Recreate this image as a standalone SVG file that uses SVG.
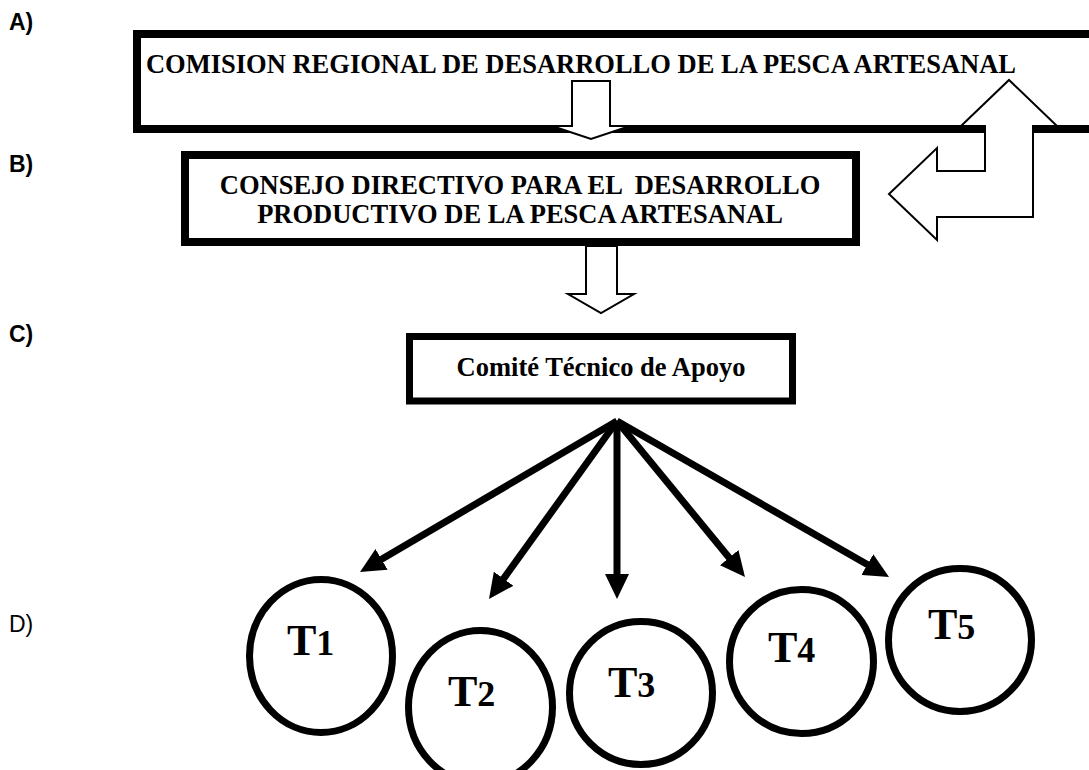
<svg xmlns="http://www.w3.org/2000/svg" width="1089" height="770" viewBox="0 0 1089 770">
<defs>
<style>
.box{fill:#fff;stroke:#000;stroke-width:8}
.blk{fill:#fff;stroke:#000;stroke-width:2;stroke-linejoin:miter}
.ttl{font-family:"Liberation Serif","Times New Roman",serif;font-weight:bold;font-size:26.5px;fill:#000;text-anchor:middle}
.lbl{font-family:"Liberation Sans",Arial,sans-serif;font-size:23px;fill:#000}
.circ{fill:#fff;stroke:#000;stroke-width:7}
.t{font-family:"Liberation Serif","Times New Roman",serif;font-weight:bold;font-size:44px;fill:#000}
.d{font-size:36px}
.fan{stroke:#000;stroke-width:7;fill:none;marker-end:url(#ah)}
</style>
<marker id="ah" markerUnits="userSpaceOnUse" markerWidth="25" markerHeight="24" viewBox="0 0 25 24" refX="3" refY="12" orient="auto">
<path d="M0,0 L25,12 L0,24 Z" fill="#000"/>
</marker>
</defs>
<rect width="1089" height="770" fill="#fff"/>
<g id="labels">
<text class="lbl" x="9" y="30" font-weight="bold">A)</text>
<text class="lbl" x="9" y="172" font-weight="bold">B)</text>
<text class="lbl" x="9" y="342" font-weight="bold">C)</text>
<text class="lbl" x="9" y="632">D)</text>
</g>
<g id="nodeA">
<rect class="box" x="137" y="34" width="970" height="95"/>
<text class="ttl" x="581" y="73">COMISION REGIONAL DE DESARROLLO DE LA PESCA ARTESANAL</text>
</g>
<g id="connectors">
<path class="blk" d="M572,81 L610,81 L610,126 L630,126 L591,139 L552,126 L572,126 Z"/>
<path class="blk" d="M985,126 L961,126 L1009,80 L1057,126 L1033,126 L1033,217 L937,217 L937,240 L889,194 L937,148 L937,171 L985,171 Z"/>
<path class="blk" d="M586,246 L617,246 L617,294 L634,294 L601,313 L568,294 L586,294 Z"/>
<line class="fan" x1="617" y1="421" x2="378.97" y2="560.85"/>
<line class="fan" x1="617" y1="421" x2="501.85" y2="581.14"/>
<line class="fan" x1="617" y1="421" x2="617" y2="577"/>
<line class="fan" x1="617" y1="421" x2="731.05" y2="559.99"/>
<line class="fan" x1="617" y1="421" x2="869.92" y2="566.06"/>
</g>
<g id="nodeB">
<rect class="box" x="185" y="155" width="671" height="87"/>
<text class="ttl" x="520" y="194" xml:space="preserve">CONSEJO DIRECTIVO PARA EL  DESARROLLO</text>
<text class="ttl" x="520" y="223">PRODUCTIVO DE LA PESCA ARTESANAL</text>
</g>
<g id="nodeC">
<rect class="box" x="409.5" y="336.5" width="383" height="64.5" style="stroke-width:7"/>
<text class="ttl" x="601" y="376">Comité Técnico de Apoyo</text>
</g>
<g id="T1">
<ellipse class="circ" cx="321" cy="656" rx="71.5" ry="76.5"/>
<text class="t" x="287" y="655">T<tspan class="d">1</tspan></text>
</g>
<g id="T2">
<ellipse class="circ" cx="480.5" cy="707" rx="72" ry="76.5"/>
<text class="t" x="448" y="706">T<tspan class="d">2</tspan></text>
</g>
<g id="T3">
<ellipse class="circ" cx="641" cy="693" rx="71.5" ry="71.5"/>
<text class="t" x="608" y="697">T<tspan class="d">3</tspan></text>
</g>
<g id="T4">
<ellipse class="circ" cx="801.5" cy="661.5" rx="72" ry="72"/>
<text class="t" x="768" y="662">T<tspan class="d">4</tspan></text>
</g>
<g id="T5">
<ellipse class="circ" cx="960" cy="640" rx="71.5" ry="71.5"/>
<text class="t" x="928" y="639">T<tspan class="d">5</tspan></text>
</g>
</svg>
